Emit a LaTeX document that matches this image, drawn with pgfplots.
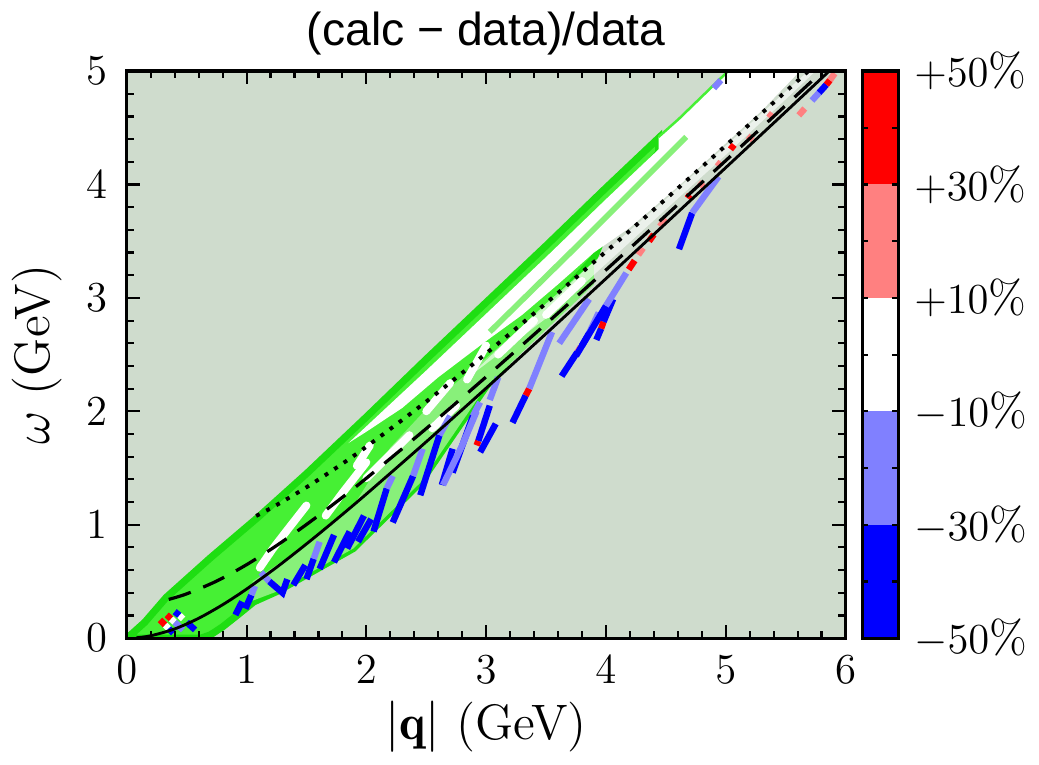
\documentclass[border=0pt]{standalone}
\usepackage{fontspec}
\usepackage{pgfplots}
\pgfplotsset{compat=1.18}
\newfontfamily\titlefont{Liberation Sans}
\definecolor{bgcol}{RGB}{207,220,205}
\definecolor{gbright}{RGB}{70,240,52}
\definecolor{grim}{RGB}{30,222,18}
\definecolor{glight}{RGB}{136,240,122}
\definecolor{cB}{RGB}{0,0,255}
\definecolor{cLB}{RGB}{128,128,255}
\definecolor{cPK}{RGB}{255,128,128}
\definecolor{cRD}{RGB}{255,0,0}
\pgfplotsset{seg/.style={line width=1.8pt, line cap=butt},
  wst/.style={white, line width=2.2pt, line cap=round}}
\begin{document}
\begin{tikzpicture}
\begin{axis}[name=main, scale only axis, width=201.9pt, height=159.3pt,
  xmin=0, xmax=6, ymin=0, ymax=5,
  xtick={0,1,2,3,4,5,6}, ytick={0,1,2,3,4,5},
  minor x tick num=4, minor y tick num=4,
  tick align=inside, major tick length=3.7pt, minor tick length=2pt,
  every tick/.style={black, line width=0.6pt},
  axis line style={black, line width=0.9pt},
  axis background/.style={fill=bgcol},
  axis on top,
  title={(calc − data)/data},
  title style={font=\titlefont\fontsize{13}{15}\selectfont, yshift=-5pt},
  xlabel={$|\mathbf{q}|$ (GeV)}, ylabel={$\omega$ (GeV)},
  tick label style={font=\fontsize{13}{15}\selectfont},
  xticklabel style={yshift=-1.5pt},
  yticklabel style={xshift=-2pt},
  label style={font=\fontsize{14}{16}\selectfont},
  xlabel style={yshift=2pt},
]
% bright green envelope
\addplot[fill=gbright, draw=grim, line width=2pt] coordinates {
(0,0) (0.05,0.045) (0.15,0.14) (0.33,0.36) (0.7,0.71) (1.1,1.07) (1.5,1.45)
(2.0,1.95) (2.5,2.46) (3.0,2.96) (3.5,3.46) (4.0,3.97) (4.44,4.41)
(4.44,4.28) (4.1,3.85) (3.9,3.35) (3.6,3.0) (3.3,2.6) (3.0,2.22)
(2.45,1.37) (1.89,0.79) (1.25,0.41) (1.06,0.32) (0.92,0.2) (0.8,0.1) (0.70,0.03) (0.62,0)
} -- cycle;
% light green band around the dashed and solid lines
\addplot[fill=glight, draw=none] coordinates {
(1.05,0.33) (1.25,0.41) (1.89,0.79) (2.45,1.37) (3.0,2.22) (3.5,2.72) (3.9,3.12)
(3.9,3.32) (3.6,3.02) (3.3,2.74) (3.0,2.47) (2.7,2.21) (2.5,2.02) (2.2,1.68)
(1.9,1.18) (1.6,0.9) (1.3,0.68) (1.05,0.5)
} -- cycle;
% big white region
\addplot[fill=white, draw=none] coordinates {
(1.85,1.72) (2.5,2.36) (3.0,2.86) (3.5,3.36) (4.0,3.87) (4.44,4.31) (4.44,4.42)
(4.61,4.58) (5.02,5.0) (5.62,5.0) (5.3,4.65) (4.6,3.98) (4.2,3.62) (3.9,3.4)
(3.6,3.12) (3.3,2.85) (3.0,2.62) (2.6,2.3) (2.3,2.03) (2.0,1.82)
} -- cycle;
% pale streaky region between dashed and dotted lines
\addplot[fill=white, fill opacity=0.6, draw=none] coordinates {
(2.85,2.3) (3.5,2.82) (4.0,3.3) (4.5,3.78) (5.0,4.26) (5.5,4.75) (5.75,5.0)
(5.69,5.0) (5.5,4.82) (5.0,4.34) (4.5,3.87) (4.0,3.41) (3.5,2.95) (3.0,2.45)
} -- cycle;
% light green thin lines
\addplot[glight, line width=1.6pt] coordinates {(3.03,2.70) (3.8,3.5) (4.67,4.42)};
\addplot[gbright, line width=0.7pt] coordinates {(4.44,4.42) (4.61,4.58) (5.02,5.0)};
% white streaks
\addplot[wst] coordinates {(1.11,0.62) (1.22,0.79) (1.33,0.94) (1.50,1.17)};
\addplot[wst] coordinates {(1.66,1.08) (1.8,1.28) (2.0,1.55)};
\addplot[wst] coordinates {(2.0,1.41) (2.2,1.62) (2.36,1.79)};
\addplot[wst] coordinates {(1.92,1.52) (2.03,1.70)};
\addplot[wst] coordinates {(2.84,2.28) (3.0,2.58)};
\addplot[wst] coordinates {(2.5,2.0) (2.7,2.25)};
\addplot[wst] coordinates {(2.55,1.85) (2.75,2.05)};
\addplot[wst] coordinates {(3.1,2.5) (3.4,2.8)};
\addplot[wst] coordinates {(3.5,2.85) (3.8,3.15)};
% coloured data segments
\addplot[seg, cRD] coordinates {(0.277,0.161) (0.32,0.115)};
\addplot[seg, white] coordinates {(0.32,0.115) (0.35,0.085)};
\addplot[seg, cB] coordinates {(0.35,0.085) (0.388,0.044)};
\addplot[seg, cRD] coordinates {(0.333,0.205) (0.37,0.17)};
\addplot[seg, white] coordinates {(0.37,0.17) (0.40,0.14)};
\addplot[seg, cLB] coordinates {(0.40,0.14) (0.47,0.073)};
\addplot[seg, cB] coordinates {(0.40,0.234) (0.44,0.20)};
\addplot[seg, white] coordinates {(0.44,0.20) (0.47,0.17)};
\addplot[seg, cB] coordinates {(0.50,0.14) (0.57,0.073)};
\addplot[seg, cB] coordinates {(0.907,0.205) (0.963,0.322)};
\addplot[seg, cB] coordinates {(0.99,0.26) (1.04,0.38)};
\addplot[seg, cLB] coordinates {(1.04,0.38) (1.07,0.46)};
\addplot[seg, cLB] coordinates {(1.12,0.58) (1.19,0.50)};
\addplot[seg, cB] coordinates {(1.19,0.50) (1.30,0.40) (1.34,0.52)};
\addplot[seg, cB] coordinates {(1.39,0.468) (1.49,0.644)};
\addplot[seg, cB] coordinates {(1.50,0.52) (1.56,0.70)};
\addplot[seg, cLB] coordinates {(1.56,0.70) (1.61,0.85)};
\addplot[seg, cB] coordinates {(1.61,0.61) (1.73,0.91)};
\addplot[seg, cB] coordinates {(1.73,0.67) (1.86,0.94)};
\addplot[seg, cB] coordinates {(1.84,0.79) (1.98,1.08)};
\addplot[seg, cB] coordinates {(1.93,0.85) (2.04,1.05)};
\addplot[seg, cB] coordinates {(2.06,0.94) (2.17,1.32)};
\addplot[seg, cLB] coordinates {(2.17,1.32) (2.22,1.43)};
\addplot[seg, cB] coordinates {(2.22,1.02) (2.39,1.43)};
\addplot[seg, cLB] coordinates {(2.39,1.43) (2.47,1.67)};
\addplot[seg, cB] coordinates {(2.45,1.26) (2.61,1.79)};
\addplot[seg, cLB] coordinates {(2.61,1.79) (2.70,1.96)};
\addplot[seg, cB] coordinates {(2.63,1.35) (2.72,1.67)};
\addplot[seg, cB] coordinates {(2.72,1.46) (2.89,1.96)};
\addplot[seg, cLB] coordinates {(2.89,1.96) (2.95,2.08)};
\addplot[seg, cRD] coordinates {(2.92,1.70) (2.935,1.74)};
\addplot[seg, cB] coordinates {(2.935,1.74) (3.03,2.05)};
\addplot[seg, cB] coordinates {(2.95,1.64) (3.08,1.89)};
\addplot[seg, cLB] coordinates {(2.64,1.35) (2.80,1.70) (2.92,2.0)};
\addplot[seg, cLB] coordinates {(3.03,2.10) (3.10,2.30)};
\addplot[seg, cB] coordinates {(3.22,1.90) (3.33,2.14)};
\addplot[seg, cRD] coordinates {(3.33,2.14) (3.36,2.20)};
\addplot[seg, cLB] coordinates {(3.36,2.20) (3.55,2.70)};
\addplot[seg, cB] coordinates {(3.63,2.31) (3.76,2.52)};
\addplot[seg, cPK] coordinates {(3.76,2.52) (3.79,2.57)};
\addplot[seg, cB] coordinates {(3.80,2.58) (3.86,2.69)};
\addplot[seg, cLB] coordinates {(3.86,2.69) (3.94,2.87)};
\addplot[seg, cLB] coordinates {(3.61,2.60) (3.86,2.99)};
\addplot[seg, cB] coordinates {(3.92,2.63) (3.96,2.73)};
\addplot[seg, cRD] coordinates {(3.96,2.73) (3.98,2.79)};
\addplot[seg, cB] coordinates {(3.98,2.79) (4.06,2.99)};
\addplot[seg, cB] coordinates {(4.61,3.43) (4.72,3.75)};
\addplot[seg, cLB] coordinates {(4.72,3.75) (4.94,4.07)};
\addplot[seg, cB] coordinates {(3.75,2.49) (4.00,2.93)};
\addplot[seg, cLB] coordinates {(4.00,2.93) (4.17,3.22)};
\addplot[seg, cRD] coordinates {(4.19,3.25) (4.24,3.33)};
\addplot[seg, cPK] coordinates {(4.27,3.38) (4.31,3.44)};
\addplot[seg, cRD] coordinates {(4.36,3.50) (4.40,3.56)};
\addplot[seg, cPK] coordinates {(4.45,3.63) (4.50,3.70)};
\addplot[seg, cPK] coordinates {(5.61,4.61) (5.66,4.67)};
\addplot[seg, cLB] coordinates {(5.72,4.74) (5.78,4.81)};
\addplot[seg, cB] coordinates {(5.78,4.81) (5.84,4.88)};
\addplot[seg, cRD] coordinates {(5.84,4.88) (5.87,4.92)};
\addplot[seg, cPK] coordinates {(5.87,4.92) (5.91,4.98)};
\addplot[seg, cRD] coordinates {(4.68,3.88) (4.70,3.91)};
\addplot[seg, cPK] coordinates {(4.78,3.98) (4.81,4.02)};
\addplot[seg, cPK] coordinates {(4.93,4.16) (4.96,4.20)};
\addplot[seg, cRD] coordinates {(5.04,4.31) (5.07,4.35)};
\addplot[seg, cPK] coordinates {(5.19,4.39) (5.22,4.43)};
\addplot[seg, cPK] coordinates {(5.36,4.59) (5.39,4.63)};
\addplot[seg, cLB] coordinates {(4.90,4.85) (4.96,4.92)};
% black lines
\addplot[black, line width=0.8pt, smooth] coordinates {
(0.08,0.0034) (0.2,0.0211) (0.4,0.0816) (0.6,0.1753) (0.8,0.2946) (1.0,0.4328)
(1.25,0.6244) (1.5,0.8307) (1.75,1.0470) (2.0,1.2705) (2.5,1.7315) (3.0,2.2045)
(3.5,2.6848) (4.0,3.1697) (4.5,3.6579) (5.0,4.1484) (5.5,4.6406) (5.864,5.0)};
\addplot[black, line width=0.9pt, dash pattern=on 6.5pt off 3.8pt, smooth] coordinates {
(0.35,0.3417) (0.5,0.3906) (0.75,0.5033) (1.0,0.6478) (1.25,0.8161) (1.5,1.0021)
(1.75,1.2012) (2.0,1.4100) (2.5,1.8481) (3.0,2.3041) (3.5,2.7715) (4.0,3.2464)
(4.5,3.7266) (5.0,4.2106) (5.5,4.6973) (5.81,5.0)};
\addplot[black, line width=1.1pt, dash pattern=on 1.1pt off 2.1pt, smooth] coordinates {
(1.08,1.0775) (1.25,1.1735) (1.5,1.3304) (1.75,1.5028) (2.0,1.6878) (2.5,2.0859)
(3.0,2.5106) (3.5,2.9533) (4.0,3.4084) (4.5,3.8724) (5.0,4.3431) (5.5,4.8186) (5.69,5.0)};
\end{axis}
\begin{axis}[at={(main.south east)}, anchor=south west, xshift=4.8pt,
  scale only axis, width=10pt, height=159.3pt,
  xmin=0, xmax=1, ymin=-50, ymax=50, xtick=\empty,
  ytick={-50,-30,-10,10,30,50},
  yticklabels={$-50\%$,$-30\%$,$-10\%$,$+10\%$,$+30\%$,$+50\%$},
  minor ytick={-40,-20,0,20,40},
  yticklabel pos=right,
  tick align=inside, major tick length=1.6pt, minor tick length=1.6pt,
  every tick/.style={black, line width=0.6pt},
  axis line style={black, line width=0.9pt},
  axis on top,
  tick label style={font=\fontsize{13}{15}\selectfont},
  yticklabel style={xshift=1pt},
]
\addplot[fill=cB, draw=none] coordinates {(0,-50) (1,-50) (1,-30) (0,-30)} -- cycle;
\addplot[fill=cLB, draw=none] coordinates {(0,-30) (1,-30) (1,-10) (0,-10)} -- cycle;
\addplot[fill=white, draw=none] coordinates {(0,-10) (1,-10) (1,10) (0,10)} -- cycle;
\addplot[fill=cPK, draw=none] coordinates {(0,10) (1,10) (1,30) (0,30)} -- cycle;
\addplot[fill=cRD, draw=none] coordinates {(0,30) (1,30) (1,50) (0,50)} -- cycle;
\end{axis}
\end{tikzpicture}
\end{document}
